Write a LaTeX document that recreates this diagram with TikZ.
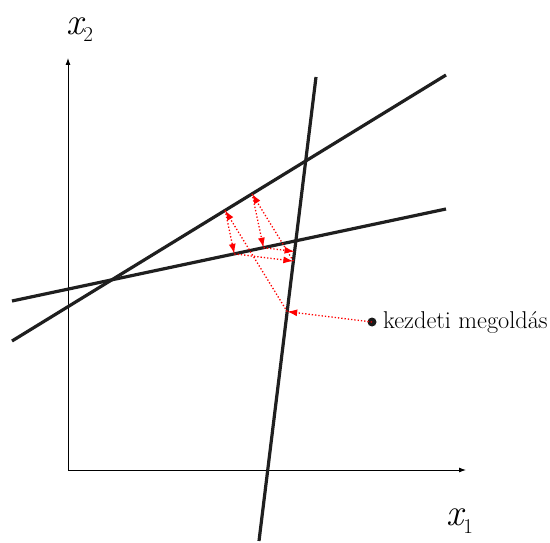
\documentclass[tikz,border=0pt]{standalone}
\usepackage{fontspec}
\usetikzlibrary{calc,arrows.meta}
\begin{document}
\begin{tikzpicture}[x=1pt,y=-1pt,
  thickline/.style={line width=3.2pt, draw=black!88},
  axis/.style={line width=0.9pt,-{Latex[length=7pt,width=5pt]}},
  proj/.style={red, dotted, line width=1.3pt, -{Latex[length=10pt,width=7pt]}},
  axlbl/.style={anchor=base west, inner sep=0pt, font=\fontsize{38}{40}\selectfont\itshape}]
\useasboundingbox (0,0) rectangle (550,543);
% axes
\coordinate (O) at (68,470);
\coordinate (Ytip) at (68,58);
\coordinate (Xtip) at (466,470);
\draw[axis] (O) -- (Ytip);
\draw[axis] (O) -- (Xtip);
\node[axlbl] (x2lab) at (66,35) {x\raisebox{-7pt}{\fontsize{21}{23}\selectfont\upshape 2}};
\node[axlbl] (x1lab) at (446,525) {x\raisebox{-8pt}{\fontsize{21}{23}\selectfont\upshape 1}};
% constraint lines
\coordinate (A1) at (259,541); \coordinate (A2) at (316,77);
\coordinate (B1) at (12,341);  \coordinate (B2) at (446,75);
\coordinate (C1) at (12,301);  \coordinate (C2) at (446,209);
\draw[thickline] (A1) -- (A2);
\draw[thickline] (B1) -- (B2);
\draw[thickline] (C1) -- (C2);
% starting point
\node[circle, fill=black!90, inner sep=0pt, minimum size=9pt] (x0) at (372,322) {};
\node[anchor=base west, inner sep=0pt, font=\fontsize{24.3}{27}\selectfont] (lab) at (383,328) {kezdeti megoldás};
% projections
\coordinate (p1) at ($(A1)!(x0.center)!(A2)$);
\coordinate (p2) at ($(B1)!(p1)!(B2)$);
\coordinate (p3) at ($(C1)!(p2)!(C2)$);
\coordinate (p4) at ($(A1)!(p3)!(A2)$);
\coordinate (p5) at ($(B1)!(p4)!(B2)$);
\coordinate (p6) at ($(C1)!(p5)!(C2)$);
\coordinate (p7) at ($(A1)!(p6)!(A2)$);
\draw[proj] (x0.center) -- (p1);
\draw[proj] (p1) -- (p2);
\draw[proj] (p2) -- (p3);
\draw[proj] (p3) -- (p4);
\draw[proj] (p4) -- (p5);
\draw[proj] (p5) -- (p6);
\draw[proj] (p6) -- (p7);
\end{tikzpicture}
\end{document}
